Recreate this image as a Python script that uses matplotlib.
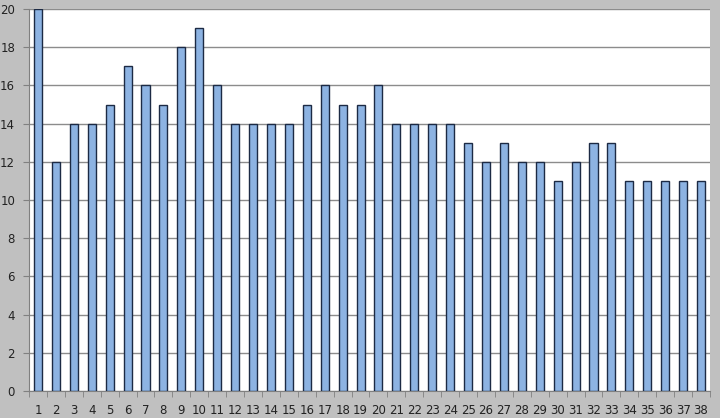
import matplotlib
matplotlib.use("Agg")
import matplotlib.pyplot as plt
import numpy as np

categories = [str(i) for i in range(1, 39)]
values = [20, 12, 14, 14, 15, 17, 16, 15, 18, 19, 16, 14, 14, 14, 14, 15, 16, 15, 15, 16,
          14, 14, 14, 14, 13, 12, 13, 12, 12, 11, 12, 13, 13, 11, 11, 11, 11, 11]
yticks = [0, 2, 4, 6, 8, 10, 12, 14, 16, 18, 20]

fig = plt.figure(figsize=(7.2, 4.18), dpi=100)
fig.patch.set_facecolor("#c0c0c0")
ax = fig.add_axes([29/720, 1-391/418, (710-29)/720, (391-9)/418])
ax.set_facecolor("white")

x = np.arange(len(categories))
ax.bar(x, values, width=0.45, color="#8db3e2", edgecolor="#1c2a44", linewidth=1.0, zorder=3)

ax.set_xlim(-0.5, len(categories) - 0.5)
ax.set_ylim(0, 20)
ax.set_yticks(yticks)
ax.set_yticklabels([str(v) for v in yticks])
ax.yaxis.grid(True, color="#8c8c8c", linewidth=1.0, zorder=0)

ax.set_xticks(x)
ax.set_xticklabels(categories)
ax.set_xticks(np.arange(-0.5, len(categories)), minor=True)
ax.tick_params(axis="x", which="major", length=0, pad=9, labelsize=8.5, labelcolor="#222222")
ax.tick_params(axis="x", which="minor", length=4, color="#808080", direction="out")
ax.tick_params(axis="y", which="major", length=4, color="#808080", direction="out", labelsize=8.5, labelcolor="#222222", pad=6)

for s in ["top", "right"]:
    ax.spines[s].set_visible(False)
ax.spines["left"].set_color("#808080")
ax.spines["bottom"].set_color("#808080")

fig.savefig("out.png", dpi=100, facecolor=fig.get_facecolor())
